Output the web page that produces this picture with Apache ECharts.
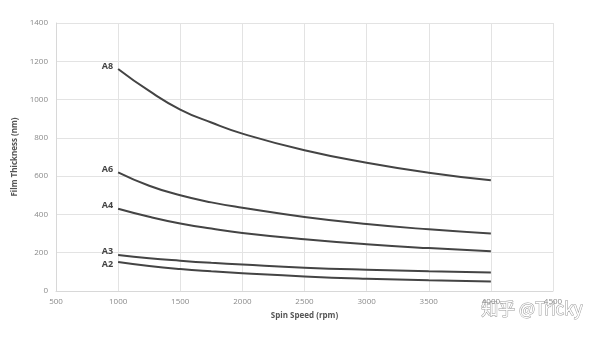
<!DOCTYPE html>
<html>
<head>
<meta charset="utf-8">
<script src="https://cdn.jsdelivr.net/npm/echarts@6/dist/echarts.min.js"></script>
<style>html,body{margin:0;padding:0;background:#fff}#c{width:600px;height:338px}</style>
</head>
<body>
<div id="c"></div>
<script>
const speeds = [1000, 1250, 1500, 1750, 2000, 2500, 3000, 3500, 4000];
const A2 = [152, 131, 115, 103, 93, 76, 64, 56, 50];
const A3 = [188, 171, 158, 147, 138, 122, 111, 103, 97];
const A4 = [430, 388, 353, 326, 303, 270, 244, 224, 208];
const A6 = [620, 550, 500, 463, 435, 387, 350, 322, 300];
const A8 = [1160, 1045, 948, 880, 822, 735, 670, 618, 578];
const seriesNames = ['A2', 'A3', 'A4', 'A6', 'A8'];
const seriesData = [A2, A3, A4, A6, A8];
const xTicks = [500, 1000, 1500, 2000, 2500, 3000, 3500, 4000, 4500];
const yTicks = [0, 200, 400, 600, 800, 1000, 1200, 1400];

const labelOffsets = { A2: [0, 3], A3: [0, -4], A4: [0, -3], A6: [0, -3], A8: [0, -3] };

const chart = echarts.init(document.getElementById('c'));
const gridColor = '#e3e3e3';
chart.setOption({
  animation: false,
  grid: { left: 56, right: 47, top: 23, bottom: 47 },
  xAxis: {
    type: 'value', min: xTicks[0], max: xTicks[xTicks.length - 1], interval: 500,
    name: 'Spin Speed (rpm)', nameLocation: 'middle', nameGap: 21,
    nameTextStyle: { fontFamily: 'Open Sans', fontSize: 8, fontWeight: 'bold', color: '#555' },
    axisLine: { show: true, lineStyle: { color: '#d8d8d8', width: 1 } },
    axisTick: { show: false },
    axisLabel: { fontFamily: 'Open Sans', fontSize: 8, color: '#8a8a8a', margin: 7, formatter: v => String(v) },
    splitLine: { show: true, lineStyle: { color: gridColor, width: 1 } }
  },
  yAxis: {
    type: 'value', min: yTicks[0], max: yTicks[yTicks.length - 1], interval: 200,
    name: 'Film Thickness (nm)', nameLocation: 'middle', nameGap: 28,
    nameTextStyle: { fontFamily: 'Open Sans', fontSize: 8, fontWeight: 'bold', color: '#555' },
    axisLine: { show: true, lineStyle: { color: '#d8d8d8', width: 1 } },
    axisTick: { show: false },
    axisLabel: { fontFamily: 'Open Sans', fontSize: 8, color: '#8a8a8a', margin: 8, formatter: v => String(v) },
    splitLine: { show: true, lineStyle: { color: gridColor, width: 1 } }
  },
  series: seriesNames.map((n, i) => ({
    name: n, type: 'line', smooth: true, symbol: 'none',
    lineStyle: { color: '#444', width: 2 },
    data: speeds.map((s, j) => [s, seriesData[i][j]]),
    markPoint: {
      symbol: 'circle', symbolSize: 0,
      data: [{ coord: [speeds[0], seriesData[i][0]] }],
      label: {
        show: true, position: 'left', distance: 5, offset: labelOffsets[n], formatter: n,
        fontFamily: 'Open Sans', fontSize: 9, fontWeight: 'bold', color: '#444'
      }
    }
  })),
  graphic: [{
    type: 'text', right: 17, top: 300,
    style: {
      text: '知乎 @Tricky', font: '17px "Noto Sans CJK SC", sans-serif',
      fill: '#ffffff', stroke: '#9a9a9a', lineWidth: 1
    }
  }]
});
</script>
</body>
</html>
